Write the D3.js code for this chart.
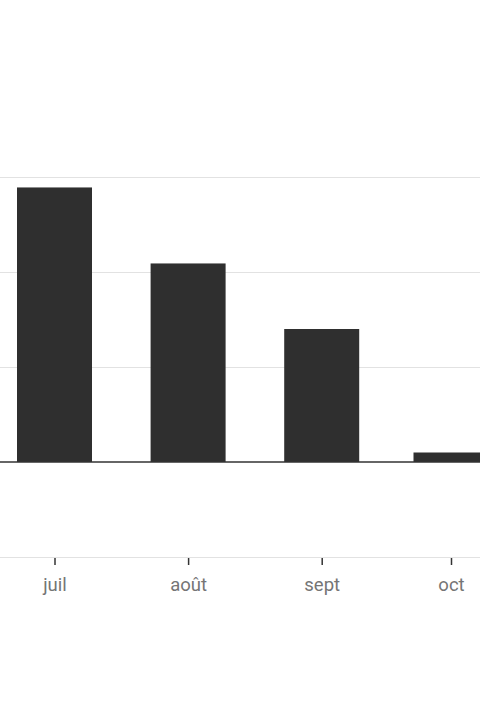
<!DOCTYPE html>
<html>
<head>
<meta charset="utf-8">
<script src="https://cdn.jsdelivr.net/npm/d3@7"></script>
<style>
  html, body { margin: 0; padding: 0; background: #ffffff; }
  svg { display: block; }
</style>
</head>
<body>
<svg id="chart" width="480" height="720"></svg>
<script>
const months = ["2023-07-01", "2023-08-01", "2023-09-01", "2023-10-01"];
const tickLabels = ["juil", "août", "sept", "oct"];
const values = [2.89, 2.09, 1.40, 0.10];
const gridValues = [-1, 0, 1, 2, 3];

const parse = d3.utcParse("%Y-%m-%d");
const dates = months.map(parse);
const data = dates.map((d, i) => ({ date: d, value: values[i] }));

const svg = d3.select("#chart");
const W = 480;

const x = d3.scaleUtc()
  .domain([dates[0], dates[3]])
  .range([54.5, 451]);

const y = d3.scaleLinear()
  .domain([-1, 3])
  .range([557, 177]);

const barW = 75;

// gridlines
svg.append("g")
  .selectAll("line")
  .data(gridValues.filter(v => v !== 0))
  .join("line")
  .attr("x1", 0).attr("x2", W)
  .attr("y1", d => y(d) + 0.5).attr("y2", d => y(d) + 0.5)
  .attr("stroke", "#e2e2e2")
  .attr("stroke-width", 1);

// bars
svg.append("g")
  .selectAll("rect")
  .data(data)
  .join("rect")
  .attr("x", d => x(d.date) - barW / 2)
  .attr("width", barW)
  .attr("y", d => y(d.value))
  .attr("height", d => y(0) - y(d.value))
  .attr("fill", "#2f2f2f");

// zero baseline
svg.append("line")
  .attr("x1", 0).attr("x2", W)
  .attr("y1", y(0)).attr("y2", y(0))
  .attr("stroke", "#333333")
  .attr("stroke-width", 1.5);

// x axis
const xAxis = d3.axisBottom(x)
  .tickValues(dates)
  .tickFormat((d, i) => tickLabels[i])
  .tickSize(7)
  .tickPadding(13);

const gx = svg.append("g")
  .attr("transform", `translate(0,${y(-1) + 1})`)
  .call(xAxis);

gx.select(".domain").remove();
gx.selectAll(".tick line")
  .attr("stroke", "#333333")
  .attr("stroke-width", 1.5);
gx.selectAll(".tick text")
  .attr("fill", "#757575")
  .style("font-family", "Roboto, 'Noto Sans', sans-serif")
  .style("font-size", "18.5px");
</script>
</body>
</html>
